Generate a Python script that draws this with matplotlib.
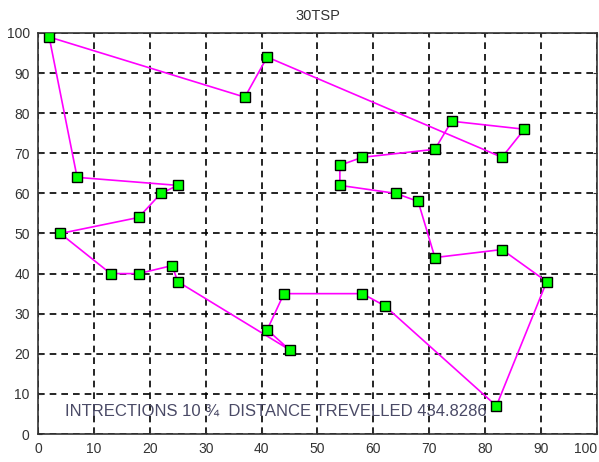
import numpy as np
import matplotlib.pyplot as plt

# city coordinates in tour order (route closes back on the first city)
cidade_x = [2, 7, 25, 22, 18, 4, 13, 18, 24, 25, 45, 41, 44, 58, 62,
            82, 91, 83, 71, 68, 64, 54, 54, 58, 71, 74, 87, 83, 41, 37]
cidade_y = [99, 64, 62, 60, 54, 50, 40, 40, 42, 38, 21, 26, 35, 35, 32,
            7, 38, 46, 44, 58, 60, 62, 67, 69, 71, 78, 76, 69, 94, 84]

titulo = '30TSP'
iteracoes = 10
distancia = 434.8286
ticks = list(range(0, 101, 10))

plt.rcParams['font.family'] = ['Liberation Sans', 'DejaVu Sans']

fig = plt.figure(figsize=(5.99, 4.62), dpi=100)
ax = fig.add_axes([0.0634, 0.0606, 0.9333, 0.8680])

# fechar o percurso
rota_x = cidade_x + [cidade_x[0]]
rota_y = cidade_y + [cidade_y[0]]
ax.plot(rota_x, rota_y, '-', color='#ff00ff', lw=1.2, zorder=3)
ax.plot(cidade_x, cidade_y, 's', ms=7.5, mfc='#00ff00', mec='black',
        mew=1.0, zorder=4)

ax.set_xlim(0, 100)
ax.set_ylim(0, 100)
ax.set_xticks(ticks)
ax.set_yticks(ticks)
ax.grid(True, color='black', linestyle=(0, (4, 3)), lw=1.2)
ax.tick_params(direction='in', length=3, top=True, right=True,
               labelsize=10, colors='#333333')
ax.tick_params(axis='x', pad=6)
ax.tick_params(axis='y', pad=6)
for s in ax.spines.values():
    s.set_color('#333333')
    s.set_linewidth(1.2)

# ultimo rotulo do eixo x encostado na borda
ultimo = ax.get_xticklabels()[-1]
ultimo.set_horizontalalignment('right')

ax.set_title(titulo, fontsize=10.5, color='#333333', pad=9)
ax.text(4.8, 5.6, 'INTRECTIONS %d \u00be  DISTANCE TREVELLED %.4f' % (iteracoes, distancia),
        fontsize=12, color='#4a4a66', va='center', ha='left')

fig.savefig('out.png', dpi=100)
